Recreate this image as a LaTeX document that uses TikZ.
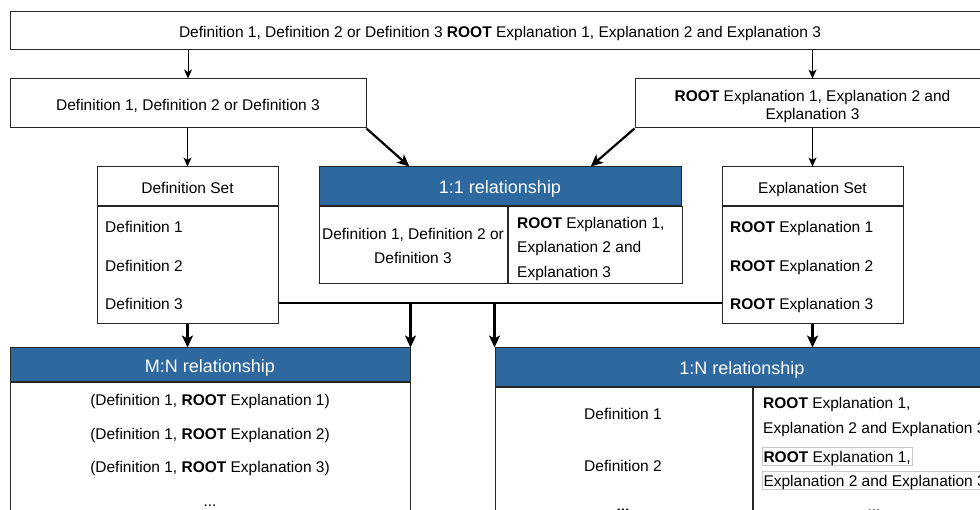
\documentclass[tikz,border=0pt]{standalone}
\usepackage{fontspec}
\setmainfont{Liberation Sans}
\usetikzlibrary{arrows.meta,positioning,calc}
\definecolor{azulCabecera}{HTML}{2D689E}
\definecolor{grisBorde}{HTML}{262626}
\definecolor{grisCelda}{HTML}{C8C8C8}

\begin{document}
\begin{tikzpicture}[x=1pt,y=-1pt,
  font=\fontsize{15.5}{24.5}\selectfont,
  every node/.style={text height=14.5pt,text depth=1pt},
  caja/.style={draw=grisBorde,line width=1pt,inner sep=0pt},
  cabecera/.style={caja,fill=azulCabecera,text=white,font=\fontsize{18}{22}\selectfont,
    text height=16pt,text depth=1.5pt},
  item/.style={inner sep=0pt,anchor=west},
  varias/.style={text height=,text depth=},
  fina/.style={-{Stealth[length=9pt,width=8pt,inset=2.5pt]},line width=1pt},
  gruesa/.style={-{Stealth[length=12pt,width=11pt,inset=3pt]},line width=2.2pt}]
  \useasboundingbox (0,0) rectangle (980,510);
  \clip (0,0) rectangle (980,510);

  % fila de arriba
  \node[caja,minimum width=980,minimum height=38] (raiz) at (500,31)
    {Definition 1, Definition 2 or Definition 3 \textbf{ROOT} Explanation 1, Explanation 2 and Explanation 3};
  \node[caja,minimum width=356,minimum height=49] (defs) at (188,103.5)
    {Definition 1, Definition 2 or Definition 3};
  \node[caja,minimum width=355,minimum height=49] (expls) at (812.5,103.5) {};
  \node[varias,align=center,font=\fontsize{15.5}{18}\selectfont] (explsTxt) at (812.5,106.5)
    {\textbf{ROOT} Explanation 1, Explanation 2 and\\Explanation 3};

  % conjuntos
  \node[caja,minimum width=181,minimum height=39] (conjDef) at (187.5,186.5) {Definition Set};
  \node[caja,minimum width=181,minimum height=117,anchor=north] (listaDef) at (conjDef.south) {};
  \foreach \i/\y in {1/226,2/265,3/303}
    \node[item] (def\i) at (105,\y) {Definition \i};

  \node[caja,minimum width=181,minimum height=39] (conjExp) at (812.5,186.5) {Explanation Set};
  \node[caja,minimum width=181,minimum height=117,anchor=north] (listaExp) at (conjExp.south) {};
  \foreach \i/\y in {1/226,2/265,3/303}
    \node[item] (exp\i) at (730,\y) {\textbf{ROOT} Explanation \i};

  % 1:1
  \node[cabecera,minimum width=362,minimum height=39] (uno) at (500,186.5) {1:1 relationship};
  \node[caja,minimum width=188,minimum height=77,anchor=north west] (unoIzq) at (uno.south west) {};
  \node[caja,minimum width=174,minimum height=77,anchor=north west] (unoDer) at (unoIzq.north east) {};
  \node[varias,align=center] (unoIzqTxt) at (unoIzq.center |- 0,246) {Definition 1, Definition 2 or\\Definition 3};
  \node[varias,item,align=left] (unoDerTxt) at (517,248.5)
    {\textbf{ROOT} Explanation 1,\\Explanation 2 and\\Explanation 3};

  % M:N
  \node[cabecera,minimum width=400,minimum height=34] (mn) at (210,365) {M:N relationship};
  \node[caja,minimum width=400,minimum height=160,anchor=north] (mnCuerpo) at (mn.south) {};
  \foreach \i/\y in {1/399,2/433,3/466}
    \node (par\i) at (210,\y) {(Definition 1, \textbf{ROOT} Explanation \i)};
  \node (parMas) at (210,500) {...};

  % 1:N
  \node[cabecera,minimum width=494,minimum height=39] (unoN) at (742,367.5) {1:N relationship};
  \node[caja,minimum width=257,minimum height=153,anchor=north west] (unoNIzq) at (unoN.south west) {};
  \node[caja,minimum width=237,minimum height=153,anchor=north west] (unoNDer) at (unoNIzq.north east) {};
  \node (ladoA) at (623,413) {Definition 1};
  \node (ladoB) at (623,465) {Definition 2};
  \node (ladoMas) at (623,505) {\textbf{...}};
  \node[varias,item,align=left] (grupoA) at (763,417)
    {\textbf{ROOT} Explanation 1,\\Explanation 2 and Explanation 3};
  \node[item,draw=grisCelda,line width=0.6pt,inner sep=1.2pt] (grupoB1) at (762,456)
    {\textbf{ROOT} Explanation 1,};
  \node[item,draw=grisCelda,line width=0.6pt,inner sep=1.2pt] (grupoB2) at (762,480)
    {Explanation 2 and Explanation 3};
  \node (grupoMas) at (874,505) {...};

  % flechas
  \draw[fina] (raiz.south -| defs.north) -- (defs.north);
  \draw[fina] (raiz.south -| expls.north) -- (expls.north);
  \draw[fina] (defs.south -| conjDef.north) -- (conjDef.north);
  \draw[fina] (expls.south) -- (conjExp.north);
  \draw[gruesa] (defs.south east) -- ($(uno.north west)!0.25!(uno.north east)$);
  \draw[gruesa] (expls.south west) -- ($(uno.north west)!0.75!(uno.north east)$);
  \draw[gruesa] (listaDef.south) -- (listaDef.south |- mn.north);
  \draw[gruesa] (listaExp.south) -- (listaExp.south |- unoN.north);
  \draw[line width=2.2pt] (listaDef.east |- def3) -- (listaExp.west |- exp3);
  \draw[gruesa] (mn.north east |- def3) -- (mn.north east);
  \draw[gruesa] (unoN.north west |- def3) -- (unoN.north west);
\end{tikzpicture}
\end{document}
